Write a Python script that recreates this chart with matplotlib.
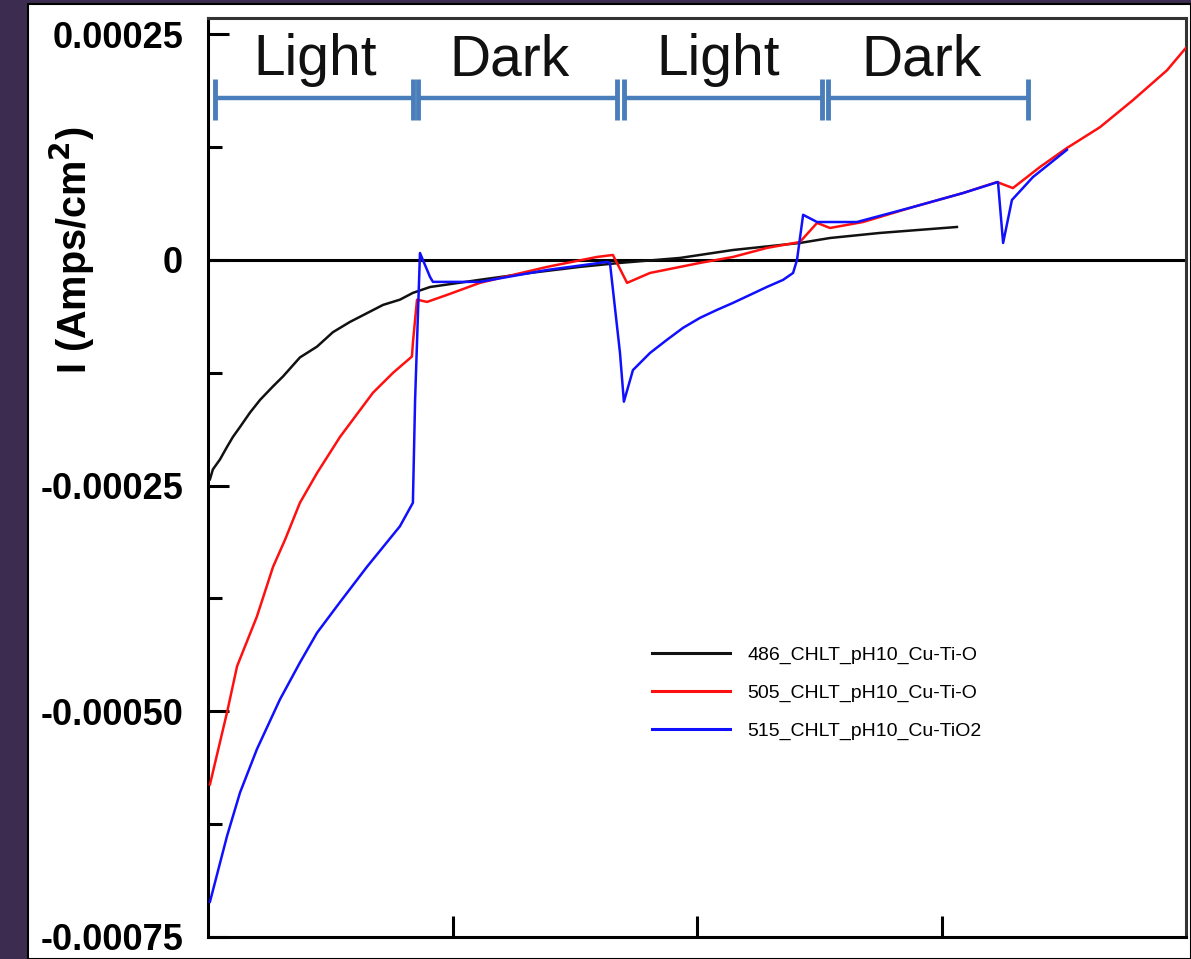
import matplotlib
matplotlib.use("Agg")
import matplotlib.pyplot as plt
from matplotlib.patches import Rectangle
from matplotlib.ticker import MultipleLocator, FixedLocator

plt.rcParams['font.family'] = ['Liberation Sans', 'DejaVu Sans']

# time axis (s) and photocurrent (A/cm^2)
t_486 = [0.8, 2.0, 4.9, 7.8, 10.2, 13.1, 17.2, 21.3, 26.6, 30.7, 37.6, 44.6,
         51.1, 58.1, 65.0, 71.6, 78.5, 83.8, 90.8, 111.2, 131.7, 152.1, 168.5,
         193.0, 214.7, 242.1, 254.4, 274.8, 306.3]
i_486 = [-2.43e-4, -2.32e-4, -2.21e-4, -2.07e-4, -1.96e-4, -1.85e-4, -1.69e-4,
         -1.55e-4, -1.40e-4, -1.29e-4, -1.08e-4, -0.96e-4, -0.80e-4, -0.686e-4,
         -0.59e-4, -0.498e-4, -0.44e-4, -0.365e-4, -0.30e-4, -0.22e-4, -0.144e-4,
         -0.077e-4, -0.033e-4, 0.022e-4, 0.11e-4, 0.188e-4, 0.243e-4, 0.299e-4,
         0.365e-4]

t_505 = [0.8, 7.8, 11.9, 20.0, 26.6, 31.5, 37.6, 44.6, 54.0, 67.5, 75.7, 83.4,
         83.8, 84.7, 85.5, 89.6, 97.8, 111.2, 124.7, 138.7, 146.8, 159.1, 165.6,
         171.4, 180.8, 201.2, 214.7, 228.6, 242.1, 249.1, 254.4, 267.9, 288.3,
         308.8, 322.7, 329.2, 340.3, 351.3, 364.8, 378.3, 392.2, 400.0]
i_505 = [-5.81e-4, -5.01e-4, -4.50e-4, -3.95e-4, -3.40e-4, -3.10e-4, -2.69e-4,
         -2.36e-4, -1.96e-4, -1.47e-4, -1.25e-4, -1.07e-4, -0.92e-4, -0.66e-4,
         -0.44e-4, -0.465e-4, -0.387e-4, -0.254e-4, -0.166e-4, -0.077e-4,
         -0.033e-4, 0.033e-4, 0.055e-4, -0.254e-4, -0.144e-4, -0.033e-4,
         0.033e-4, 0.133e-4, 0.199e-4, 0.41e-4, 0.354e-4, 0.42e-4, 0.586e-4,
         0.741e-4, 0.863e-4, 0.796e-4, 1.03e-4, 1.24e-4, 1.47e-4, 1.77e-4,
         2.10e-4, 2.35e-4]

t_515 = [0.8, 7.8, 13.1, 20.0, 29.4, 37.6, 44.6, 54.0, 65.0, 78.5, 83.8, 84.7,
         86.7, 90.8, 92.0, 111.2, 138.7, 163.2, 164.4, 168.5, 170.1, 173.8,
         180.8, 187.7, 194.3, 201.2, 208.2, 214.7, 221.7, 228.6, 235.2, 239.3,
         240.9, 243.4, 249.1, 265.4, 288.3, 308.8, 323.1, 325.2, 328.8, 337.4,
         351.3]
i_515 = [-7.11e-4, -6.38e-4, -5.90e-4, -5.42e-4, -4.87e-4, -4.46e-4, -4.13e-4,
         -3.79e-4, -3.40e-4, -2.95e-4, -2.69e-4, -1.55e-4, 0.077e-4, -0.188e-4,
         -0.243e-4, -0.243e-4, -0.111e-4, -0.022e-4, -0.033e-4, -1.03e-4,
         -1.57e-4, -1.22e-4, -1.03e-4, -0.885e-4, -0.752e-4, -0.642e-4,
         -0.553e-4, -0.476e-4, -0.387e-4, -0.299e-4, -0.221e-4, -0.144e-4, 0.0,
         0.50e-4, 0.42e-4, 0.42e-4, 0.586e-4, 0.741e-4, 0.863e-4, 0.188e-4,
         0.664e-4, 0.918e-4, 1.22e-4]

labels = ["486_CHLT_pH10_Cu-Ti-O", "505_CHLT_pH10_Cu-Ti-O", "515_CHLT_pH10_Cu-TiO2"]

# light / dark periods (start, end) in s
phases = [(3.0, 84.0), (86.0, 167.3), (170.0, 251.2), (253.6, 335.5)]
phase_names = ["Light", "Dark", "Light", "Dark"]
phase_text_x = [44.0, 123.5, 208.6, 292.0]

yticks = [0.00025, 0, -0.00025, -0.0005, -0.00075]
ytick_labels = ["0.00025", "0", "-0.00025", "-0.00050", "-0.00075"]

fig = plt.figure(figsize=(11.91, 9.59), dpi=100)
fig.patch.set_facecolor('#3c2d50')
# white slide panel
fig.patches.append(Rectangle((28 / 1191, 0), 1 - 28 / 1191, 1 - 4 / 959,
                             transform=fig.transFigure, facecolor='white',
                             edgecolor='black', linewidth=1.5, zorder=-5))

ax = fig.add_axes([208 / 1191, 1 - 937 / 959, 978 / 1191, 919 / 959])
ax.set_zorder(2)
ax.set_facecolor('white')

ax.axhline(0, color='black', lw=2.2, zorder=1)
ax.plot(t_486, i_486, color='#111111', lw=1.8, label=labels[0], zorder=2)
ax.plot(t_505, i_505, color='#ff1010', lw=1.8, label=labels[1], zorder=3)
ax.plot(t_515, i_515, color='#1010ff', lw=1.8, label=labels[2], zorder=4)

# light/dark brackets
bc = '#4a7ebb'
y_bar = 1.79e-4
for (a, b), name, tx in zip(phases, phase_names, phase_text_x):
    ax.plot([a, b], [y_bar, y_bar], color=bc, lw=3.2, solid_capstyle='butt', zorder=5)
    ax.plot([a, a], [1.55e-4, 2.0e-4], color=bc, lw=3.5, solid_capstyle='butt', zorder=5)
    ax.plot([b, b], [1.55e-4, 2.0e-4], color=bc, lw=3.5, solid_capstyle='butt', zorder=5)
    ax.text(tx, 2.21e-4, name, fontsize=41, ha='center', va='center',
            color='#111111')

ax.set_xlim(0, 400)
ax.set_ylim(-0.00075, 0.000268)
ax.xaxis.set_major_locator(FixedLocator([100, 200, 300]))
ax.set_xticklabels([])
ax.set_yticks(yticks)
ax.set_yticklabels(ytick_labels, fontsize=26, fontweight='bold')
ax.yaxis.set_minor_locator(MultipleLocator(0.000125))
ax.tick_params(axis='both', which='major', direction='in', length=15, width=2.2,
               pad=18)
ax.tick_params(axis='both', which='minor', direction='in', length=10, width=2.2)
ax.tick_params(axis='x', which='minor', length=0)
for s in ax.spines.values():
    s.set_linewidth(2.2)
ax.spines['right'].set_color('#333333')
ax.spines['top'].set_color('#333333')

fig.text(72 / 1191, 1 - 250 / 959, r'I (Amps/cm$^\mathbf{2}$)', rotation=90,
         fontsize=28.5, fontweight='bold', ha='center', va='center')

leg = ax.legend(loc='upper left', bbox_to_anchor=(652 / 1191, 1 - 646 / 959),
                bbox_transform=fig.transFigure, frameon=False, fontsize=14,
                handlelength=4.0, handletextpad=0.9, labelspacing=1.05,
                borderpad=0, borderaxespad=0)
for h in leg.get_lines():
    h.set_linewidth(2.2)

fig.savefig('out.png', dpi=100, facecolor=fig.get_facecolor())
